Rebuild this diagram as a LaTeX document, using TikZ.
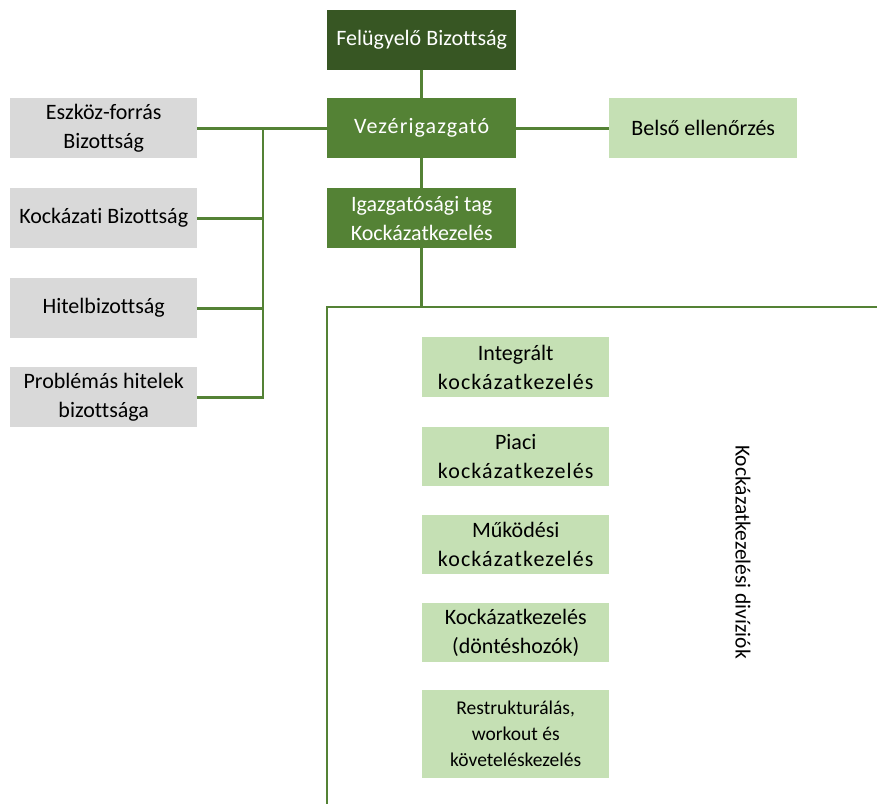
\documentclass[tikz,border=0pt]{standalone}
\usepackage{fontspec}
\setmainfont[Ligatures=NoCommon]{Carlito}
\newfontfamily\spacedfont[Ligatures=NoCommon,LetterSpace=5]{Carlito}
\definecolor{dkgreen}{HTML}{375623}
\definecolor{mdgreen}{HTML}{548235}
\definecolor{ltgreen}{HTML}{C5E0B4}
\definecolor{ltgray}{HTML}{D9D9D9}
\definecolor{linegreen}{HTML}{548235}
\begin{document}
\begin{tikzpicture}[x=1pt,y=-1pt,
  box/.style={minimum width=189pt,minimum height=60pt,inner sep=0pt,align=center,font=\fontsize{22}{29}\selectfont,anchor=north west},
  topbox/.style={box,fill=dkgreen,text=white},
  midbox/.style={box,fill=mdgreen,text=white},
  graybox/.style={box,fill=ltgray,text=black,minimum width=187pt},
  greenbox/.style={box,fill=ltgreen,text=black,minimum width=187pt},
  conn/.style={draw=linegreen,line width=2.6pt}]
\useasboundingbox (0,0) rectangle (877,804);
\node[topbox] (fb) at (327,10) {Felügyelő Bizottság};
\node[midbox] (vg) at (327,98) {{\spacedfont Vezérigazgató}};
\node[midbox] (it) at (327,188) {Igazgatósági tag\\Kockázatkezelés};
\node[greenbox,minimum width=188pt] (be) at (609,98) {Belső ellenőrzés};
\node[graybox] (ef) at (10,98) {Eszköz-forrás\\Bizottság};
\node[graybox] (kb) at (10,188) {Kockázati Bizottság};
\node[graybox] (hb) at (10,278) {Hitelbizottság};
\node[graybox] (ph) at (10,367) {Problémás hitelek\\bizottsága};
\node[greenbox,minimum height=60pt] (ik) at (422,337) {Integrált\\{\spacedfont kockázatkezelés}};
\node[greenbox,minimum height=59pt] (pk) at (422,427) {Piaci\\{\spacedfont kockázatkezelés}};
\node[greenbox,minimum height=59pt] (mk) at (422,515) {Működési\\{\spacedfont kockázatkezelés}};
\node[greenbox,minimum height=59pt] (kd) at (422,603) {Kockázatkezelés\\(döntéshozók)};
\node[greenbox,minimum height=88pt,font=\fontsize{19.5}{26}\selectfont] (rw) at (422,690) {Restrukturálás,\\workout és\\követeléskezelés};
\node[rotate=-90,font=\fontsize{21.5}{24}\selectfont] (div) at (743,552) {Kockázatkezelési divíziók};
\coordinate (bus) at (263,128);
\coordinate (cr) at (421,307);
\coordinate (tl) at (327,307);
\coordinate (tr) at (877,307);
\coordinate (bl) at (327,804);
\draw[conn] (fb.south) -- (vg.north);
\draw[conn] (vg.south) -- (it.north);
\draw[conn] (it.south) -- (it.south |- cr);
\draw[conn] (vg.east) -- (be.west);
\draw[conn] (ef.east) -- (vg.west);
\draw[conn] (bus) |- (ph.east);
\draw[conn] (kb.east) -- (kb.east -| bus);
\draw[conn] (hb.east) -- (hb.east -| bus);
\draw[conn] (tr) -- (tl) -- (bl);
\end{tikzpicture}
\end{document}
